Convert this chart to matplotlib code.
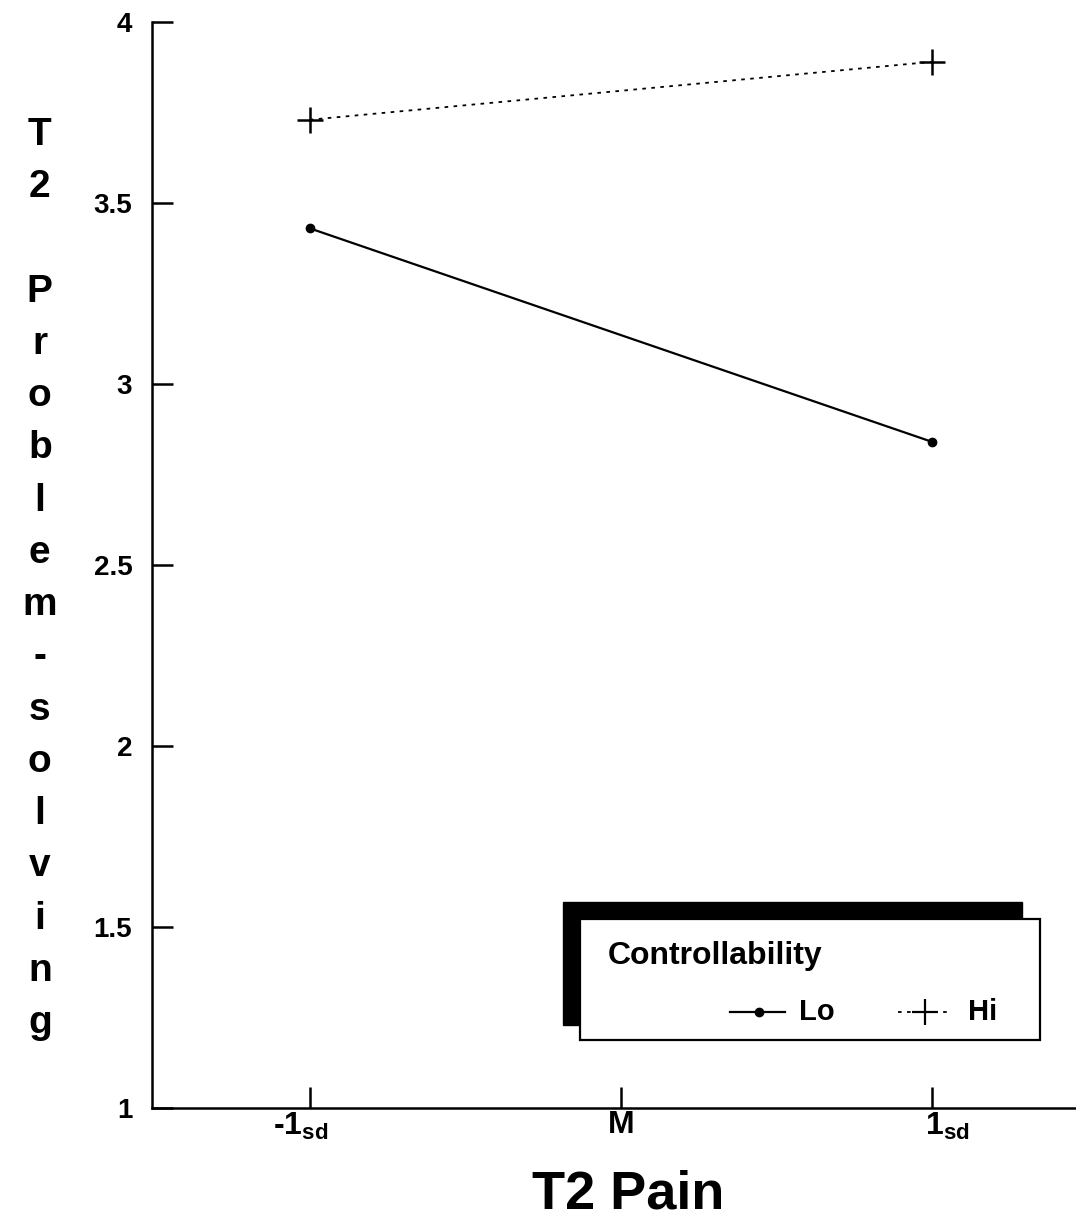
import matplotlib
matplotlib.use("Agg")
import matplotlib.pyplot as plt
import matplotlib.transforms as mtrans
from matplotlib.patches import Rectangle
from matplotlib.lines import Line2D

plt.rcParams["font.family"] = ["Liberation Sans", "DejaVu Sans"]
plt.rcParams["font.weight"] = "bold"
plt.rcParams["mathtext.fontset"] = "custom"
plt.rcParams["mathtext.rm"] = "Liberation Sans:bold"
plt.rcParams["mathtext.bf"] = "Liberation Sans:bold"

X_POS = [-1, 1]
LO = [3.43, 2.84]
HI = [3.73, 3.89]
XTICKS = [-1, 0, 1]
XTICK_LABELS = [r"-1$_{\mathbf{sd}}$", "M", r"1$_{\mathbf{sd}}$"]
YTICKS = [1, 1.5, 2, 2.5, 3, 3.5, 4]
YTICK_LABELS = ["1", "1.5", "2", "2.5", "3", "3.5", "4"]

fig = plt.figure(figsize=(10.76, 12.24), dpi=100)
ax = fig.add_axes([0.141, 0.095, 0.859, 0.887])

ax.plot(X_POS, LO, color="black", lw=1.6, marker="o", ms=6)
ax.plot(X_POS, HI, color="black", lw=1.3, ls=(0, (2, 3)), marker="+", ms=19, mew=1.8)

ax.set_xlim(-1.508, 1.463)
ax.set_ylim(1, 4)
ax.spines["top"].set_visible(False)
ax.spines["right"].set_visible(False)
ax.spines["left"].set_linewidth(1.8)
ax.spines["bottom"].set_linewidth(1.8)
ax.set_yticks(YTICKS)
ax.set_yticklabels(YTICK_LABELS, fontsize=20, fontweight="bold")
ax.set_xticks(XTICKS)
ax.set_xticklabels(XTICK_LABELS, fontsize=23, fontweight="bold")
ax.tick_params(axis="both", direction="in", length=15, width=1.8)
ax.tick_params(axis="y", pad=14)
ax.tick_params(axis="x", pad=2)

# shift the +/-1 sd labels so the "1" sits on its tick
offsets = [-37, 0, -7]
for lab, dx in zip(ax.get_xticklabels(), offsets):
    if dx:
        lab.set_ha("left")
        lab.set_transform(lab.get_transform() +
                          mtrans.ScaledTranslation(dx / 100, 0, fig.dpi_scale_trans))

fig.text(0.584, 0.024, "T2 Pain", ha="center", va="center", fontsize=39, fontweight="bold")
fig.text(0.037, 0.527, "\n".join("T2 Problem-solving"), ha="center", va="center",
         fontsize=28, fontweight="bold", linespacing=1.58)

# legend with offset black shadow
fig.patches.append(Rectangle((0.523, 0.1625), 0.427, 0.1005, transform=fig.transFigure,
                             facecolor="black", edgecolor="black"))
fig.patches.append(Rectangle((0.539, 0.150), 0.428, 0.099, transform=fig.transFigure,
                             facecolor="white", edgecolor="black", lw=1.6))
fig.text(0.565, 0.219, "Controllability", ha="left", va="center", fontsize=23,
         fontweight="bold")
fig.lines.append(Line2D([0.678, 0.730], [0.173, 0.173], transform=fig.transFigure,
                        color="black", lw=1.6))
fig.lines.append(Line2D([0.705], [0.173], transform=fig.transFigure, color="black",
                        marker="o", ms=6))
fig.text(0.743, 0.173, "Lo", ha="left", va="center", fontsize=21, fontweight="bold")
fig.lines.append(Line2D([0.835, 0.885], [0.173, 0.173], transform=fig.transFigure,
                        color="black", lw=1.3, ls=(0, (2, 3))))
fig.lines.append(Line2D([0.860], [0.173], transform=fig.transFigure, color="black",
                        marker="+", ms=19, mew=1.6))
fig.text(0.900, 0.173, "Hi", ha="left", va="center", fontsize=21, fontweight="bold")

fig.savefig("out.png", dpi=100)
